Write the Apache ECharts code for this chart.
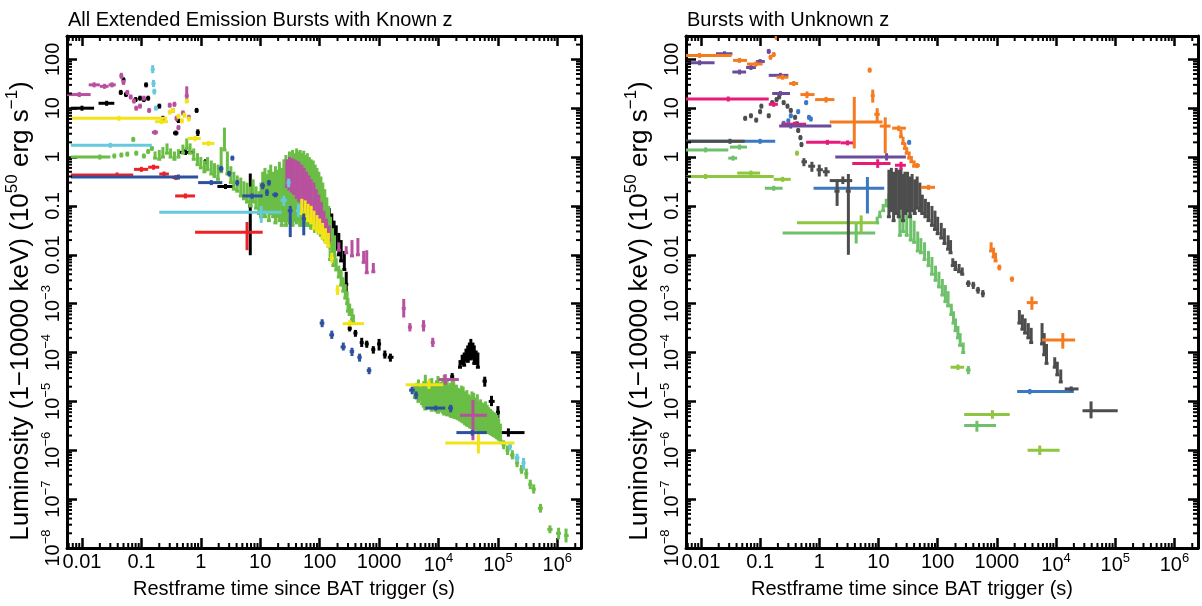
<!DOCTYPE html>
<html>
<head>
<meta charset="utf-8">
<title>Extended emission burst light curves</title>
<script src="https://cdn.jsdelivr.net/npm/echarts@6/dist/echarts.min.js"></script>
<style>
  html, body { margin: 0; padding: 0; background: #fff; }
  #chart { width: 1202px; height: 606px; }
</style>
</head>
<body>
<div id="chart"></div>
<script>
// axis ranges (time in s, luminosity in 1e50 erg/s)
var T_MIN = 0.0056, T_MAX = 2.5e6;
var L_MIN = 1e-8, L_MAX = 300;

// tick labels that are written as plain numbers; the rest are 10^n
var plainLabels = { "-2": "0.01", "-1": "0.1", "0": "1", "1": "10", "2": "100", "3": "1000" };

// point formats: [t, tLo, tHi, L, LLo, LHi] | [t, L] (dot) | [t, LLo, LHi] (vertical bar only)

// ---- left panel: known z ----
var knownBlack = [
  [0.01, 0.0065, 0.016, 10, 9.3, 10.7], [0.026, 0.019, 0.035, 12.6, 11.8, 13.4],
  [0.045, 21], [0.055, 19], [0.05, 38], [0.08, 15], [0.095, 16], [0.11, 15], [0.12, 30], [0.13, 16],
  [0.2, 11], [0.23, 6.2], [0.42, 5.6],
  [0.38, 0.34, 0.42, 3.1, 2.8, 3.4], [0.55, 0.41, 0.8, 1.25, 1.1, 1.45],
  [0.85, 9], [0.89, 0.86, 0.92, 3.2, 2.7, 3.7], [1.2, 1.1, 1.3, 0.8, 0.7, 0.9],
  [2.6, 1.9, 3.5, 0.25, 0.23, 0.27], [6.8, 6.5, 7.1, 0.1, 0.0098, 0.46],
  [60, 0.1, 0.3], [70, 0.09, 0.28], [80, 0.08, 0.25], [90, 0.07, 0.22], [100, 0.06, 0.2], [115, 0.05, 0.16],
  [130, 0.04, 0.12], [145, 0.03, 0.09], [160, 0.025, 0.07], [175, 0.018, 0.05], [190, 0.013, 0.04],
  [210, 0.01, 0.028], [230, 0.0075, 0.02], [260, 0.005, 0.012],
  [280, 270, 290, 2.5e-3, 1.4e-3, 4.5e-3],
  [320, 300, 340, 3.1e-4, 2.7e-4, 3.5e-4], [400, 375, 425, 2.5e-4, 2.1e-4, 2.9e-4],
  [510, 480, 540, 1.6e-4, 1.3e-4, 2e-4], [620, 580, 660, 1.5e-4, 1.25e-4, 1.75e-4],
  [800, 750, 850, 1.15e-4, 9.5e-5, 1.35e-4], [1000, 940, 1060, 1.5e-4, 1.1e-4, 1.9e-4],
  [1250, 1180, 1320, 9e-5, 7.5e-5, 1.1e-4], [1550, 1400, 1750, 8e-5, 6.5e-5, 9.5e-5],
  [5200, 5000, 5400, 1.5e-5, 1.2e-5, 1.8e-5], [1.1e4, 1.05e4, 1.15e4, 1.4e-5, 1.1e-5, 1.8e-5],
  [1.3e4, 1.25e4, 1.35e4, 2e-5, 1.7e-5, 2.4e-5], [1.7e4, 1.6e4, 1.8e4, 3.2e-5, 2.7e-5, 3.8e-5],
  [2.3e4, 5e-5, 7e-5], [2.5e4, 6e-5, 9e-5], [2.7e4, 5.5e-5, 1e-4], [2.9e4, 7e-5, 1.2e-4],
  [3.1e4, 6.6e-5, 1.4e-4], [3.3e4, 8e-5, 1.6e-4], [3.5e4, 7.4e-5, 1.9e-4], [3.8e4, 8e-5, 1.6e-4],
  [4e4, 6e-5, 1.4e-4], [4.3e4, 6e-5, 1.1e-4], [4.6e4, 5e-5, 1e-4],
  [6e4, 5.5e4, 6.5e4, 2.6e-5, 2e-5, 3.2e-5], [7.8e4, 7e4, 8.8e4, 1e-5, 8e-6, 1.3e-5],
  [1e5, 9.5e4, 1.05e5, 6e-6, 4.5e-6, 8e-6], [1.5e5, 8.5e4, 2.8e5, 2.3e-6, 1.9e-6, 2.8e-6]
];
var knownGreen = [
  [0.02, 0.0065, 0.03, 1.0, 0.93, 1.07],
  [0.035, 1.05], [0.046, 1.1], [0.058, 1.15], [0.073, 2.3], [0.082, 1.2], [0.11, 1.05], [0.13, 1.3], [0.15, 1.5],
  [0.17, 0.95, 1.3], [0.2, 0.9, 1.4], [0.23, 1.0, 1.6], [0.27, 1.2, 1.9], [0.31, 1.0, 1.5], [0.36, 0.9, 1.3],
  [0.42, 1.0, 1.45], [0.5, 1.2, 1.8], [0.58, 1.5, 2.4], [0.66, 1.2, 1.9], [0.76, 0.9, 1.5], [0.88, 0.7, 1.2],
  [1.0, 0.6, 1.0], [1.15, 0.5, 0.85], [1.3, 0.55, 1.0], [1.5, 0.45, 0.85], [1.7, 0.4, 0.75], [1.95, 0.35, 0.7],
  [2.2, 0.5, 1.6], [2.5, 1.4, 4.0], [2.8, 0.45, 1.3], [3.2, 0.3, 0.65], [3.6, 0.22, 0.5], [4.1, 0.2, 0.42],
  [4.7, 0.16, 0.38], [5.3, 0.14, 0.32], [6.0, 0.12, 0.3], [6.8, 0.1, 0.25], [7.6, 0.12, 0.35], [8.5, 0.09, 0.25],
  [9.5, 0.07, 0.2], [10.3, 0.06, 0.3],
  [11, 0.07, 0.5], [12, 0.06, 0.6], [13, 0.08, 0.45], [14, 0.05, 0.55], [15, 0.07, 0.7], [16.5, 0.06, 0.5],
  [18, 0.045, 0.65], [19.5, 0.06, 0.55], [21, 0.05, 0.8], [23, 0.04, 0.6], [25, 0.05, 0.9], [27, 0.04, 1.1],
  [29, 0.05, 0.8], [31, 0.045, 1.3], [33, 0.05, 1.0], [35, 0.04, 1.4], [38, 0.05, 1.2], [41, 0.045, 1.5],
  [44, 0.05, 1.3], [47, 0.04, 1.4], [50, 0.045, 1.2], [54, 0.04, 1.35], [58, 0.045, 1.1], [62, 0.04, 1.2],
  [67, 0.04, 1.0], [72, 0.035, 0.9], [78, 0.035, 0.85], [84, 0.03, 0.7], [90, 0.03, 0.6], [97, 0.028, 0.5],
  [105, 0.025, 0.4], [113, 0.022, 0.3], [122, 0.02, 0.22], [132, 0.018, 0.15], [142, 0.015, 0.1],
  [152, 0.013, 0.06], [165, 0.011, 0.035], [178, 0.009, 0.025],
  [150, 0.008, 0.012], [170, 0.006, 0.01], [190, 0.0049, 0.0085], [210, 0.0035, 0.006], [230, 0.0024, 0.005],
  [250, 0.0018, 0.0035], [270, 0.0013, 0.0025], [290, 0.001, 0.0018], [300, 0.0007, 0.0013],
  [320, 0.0006, 0.001], [350, 0.00046, 0.0008], [370, 0.0004, 0.0006],
  [4000, 1.2e-5, 2.2e-5], [4300, 1.4e-5, 2.4e-5], [4600, 1e-5, 2.8e-5], [4950, 1.1e-5, 2e-5], [5300, 9e-6, 2.2e-5],
  [5650, 8e-6, 2.6e-5], [6000, 7e-6, 3.5e-5], [6400, 9e-6, 2.3e-5], [6800, 8e-6, 2.5e-5], [7200, 7.5e-6, 2.9e-5],
  [7700, 6.6e-6, 3e-5], [8200, 7.8e-6, 2.4e-5], [8700, 7e-6, 2.2e-5], [9200, 6.4e-6, 2.7e-5], [9800, 6e-6, 3.3e-5],
  [1.04e4, 6.8e-6, 2.3e-5], [1.1e4, 6.5e-6, 2.5e-5], [1.18e4, 6e-6, 2.9e-5], [1.25e4, 5.5e-6, 3.5e-5],
  [1.33e4, 5.8e-6, 2.6e-5], [1.4e4, 5.3e-6, 2.8e-5], [1.5e4, 5.4e-6, 2.2e-5], [1.6e4, 5e-6, 2.4e-5],
  [1.7e4, 4.9e-6, 2.9e-5], [1.8e4, 4.8e-6, 2.6e-5], [1.9e4, 4.7e-6, 2e-5], [2e4, 4.6e-6, 2.2e-5],
  [2.15e4, 4.4e-6, 1.9e-5], [2.3e4, 4.2e-6, 1.8e-5], [2.45e4, 4e-6, 2.1e-5], [2.6e4, 3.8e-6, 2e-5],
  [2.8e4, 3.5e-6, 1.6e-5], [3e4, 3.3e-6, 1.7e-5], [3.2e4, 3.2e-6, 1.4e-5], [3.4e4, 3e-6, 1.3e-5],
  [3.65e4, 2.9e-6, 1.6e-5], [3.9e4, 2.8e-6, 1.5e-5], [4.2e4, 2.7e-6, 1.2e-5], [4.5e4, 2.6e-6, 1.4e-5],
  [4.8e4, 2.6e-6, 1e-5], [5.1e4, 2.5e-6, 1.1e-5], [5.45e4, 2.5e-6, 9.5e-6], [5.8e4, 2.4e-6, 9e-6],
  [6.2e4, 2.3e-6, 1e-5], [6.6e4, 2.4e-6, 8.5e-6], [7e4, 2.3e-6, 7.6e-6], [7.5e4, 2.2e-6, 7e-6],
  [8e4, 2.1e-6, 6.5e-6], [8.5e4, 2e-6, 6e-6], [9.1e4, 1.9e-6, 5.8e-6], [9.7e4, 1.8e-6, 5.3e-6],
  [1.03e5, 1.7e-6, 4.4e-6], [1.1e5, 1.6e-6, 3.5e-6],
  [1.25e5, 1.15e5, 1.35e5, 1.3e-6, 1.05e-6, 1.6e-6], [1.45e5, 1.35e5, 1.55e5, 1e-6, 8e-7, 1.25e-6],
  [1.75e5, 1.6e5, 1.9e5, 8e-7, 6.5e-7, 1e-6], [2.1e5, 1.95e5, 2.25e5, 5.5e-7, 4.5e-7, 6.8e-7],
  [2.5e5, 2.3e5, 2.7e5, 4e-7, 3.3e-7, 5e-7], [3e5, 2.8e5, 3.2e5, 3.3e-7, 2.6e-7, 4.2e-7],
  [3.5e5, 3.25e5, 3.75e5, 2e-7, 1.6e-7, 2.5e-7], [4e5, 3.7e5, 4.3e5, 1.6e-7, 1.3e-7, 2e-7],
  [5.2e5, 4.7e5, 5.7e5, 6.5e-8, 5.3e-8, 8e-8], [7.5e5, 6.8e5, 8.3e5, 2.4e-8, 2e-8, 2.9e-8],
  [1.05e6, 9.5e5, 1.15e6, 2e-8, 1.5e-8, 2.6e-8], [1.4e6, 1.3e6, 1.55e6, 1.8e-8, 1.3e-8, 2.5e-8]
];
var knownMagenta = [
  [0.009, 0.0055, 0.014, 19, 17.5, 20.5],
  [0.016, 0.013, 0.02, 30, 27, 33], [0.024, 0.02, 0.028, 28, 25.5, 30.5], [0.032, 0.028, 0.037, 30, 27, 33],
  [0.046, 0.043, 0.049, 46, 40, 53], [0.05, 0.047, 0.053, 34, 30, 38],
  [0.058, 21], [0.066, 17], [0.075, 14], [0.082, 10], [0.095, 11], [0.11, 16], [0.135, 9],
  [0.17, 0.15, 0.19, 3.2, 2.95, 3.45],
  [0.3, 11.5], [0.34, 9], [0.36, 12], [0.39, 6.2], [0.42, 4], [0.5, 8], [0.58, 0.56, 0.6, 18, 13, 28], [0.63, 6.5],
  [28, 0.25, 0.9], [31, 0.22, 1.0], [34, 0.2, 0.95], [37, 0.18, 0.9], [41, 0.15, 0.85], [45, 0.13, 0.8],
  [50, 0.12, 0.7], [55, 0.1, 0.6], [60, 0.09, 0.5], [66, 0.08, 0.42], [72, 0.07, 0.35], [80, 0.06, 0.3],
  [88, 0.05, 0.22], [97, 0.045, 0.17], [107, 0.04, 0.12], [118, 0.032, 0.08], [130, 0.025, 0.055], [145, 0.02, 0.04],
  [210, 0.0124, 0.018], [280, 0.011, 0.015], [350, 0.0095, 0.02], [440, 0.01, 0.022], [550, 0.007, 0.012],
  [620, 0.0043, 0.0124], [800, 0.0045, 0.0068],
  [2600, 2500, 2700, 8e-4, 5.2e-4, 1.25e-3], [3300, 3100, 3500, 3.3e-4, 2.7e-4, 4e-4],
  [5600, 5300, 5900, 3.5e-4, 2.7e-4, 4.6e-4], [8000, 7600, 8400, 1.6e-4, 1.3e-4, 2e-4],
  [1.3e4, 1e4, 2.2e4, 2.8e-5, 2.2e-5, 3.6e-5], [3.8e4, 2.3e4, 6.5e4, 5.2e-6, 1.6e-6, 1.07e-5]
];
var knownCyan = [
  [0.03, 0.0065, 0.15, 1.74, 1.62, 1.86],
  [0.155, 0.152, 0.158, 62, 52, 76], [0.16, 0.157, 0.163, 32, 27, 38],
  [0.165, 0.162, 0.168, 22, 19, 25], [0.175, 0.172, 0.178, 10, 9, 11],
  [10.4, 0.2, 23, 0.074, 0.045, 0.1],
  [25, 22, 28, 0.13, 0.1, 0.16], [30, 29, 31, 0.3, 0.24, 0.36], [32, 29, 35, 0.08, 0.06, 0.1], [44, 40, 48, 0.08, 0.06, 0.11],
  [1.6e5, 1.5e5, 1.7e5, 1.2e-6, 1e-6, 1.4e-6], [2.1e5, 1.9e5, 2.3e5, 7e-7, 5.8e-7, 8.5e-7],
  [2.7e5, 2.5e5, 2.9e5, 5.5e-7, 4e-7, 7e-7]
];
var knownYellow = [
  [0.042, 0.0065, 0.27, 6.2, 5.8, 6.6], [0.22, 0.17, 0.28, 5.3, 4.8, 5.8],
  [0.3, 8.3], [0.34, 9], [0.42, 6.8], [0.48, 5.5], [0.53, 7.2], [0.58, 14], [0.63, 6],
  [0.8, 0.6, 1.0, 2.4, 2.1, 2.7], [1.35, 1.05, 1.7, 1.9, 1.7, 2.1],
  [50, 0.07, 0.14], [57, 0.06, 0.13], [64, 0.05, 0.11], [72, 0.045, 0.1], [80, 0.035, 0.08], [90, 0.03, 0.065],
  [100, 0.028, 0.055], [112, 0.022, 0.045], [125, 0.018, 0.035], [140, 0.015, 0.028],
  [160, 155, 165, 0.0085, 0.0068, 0.011], [200, 190, 210, 1.9e-3, 1.5e-3, 2.4e-3],
  [320, 245, 560, 3.9e-4, 3.4e-4, 4.6e-4], [6900, 2800, 1.2e4, 2.2e-5, 1.8e-5, 2.8e-5],
  [4.7e4, 1.3e4, 1.9e5, 1.4e-6, 8.6e-7, 2.2e-6]
];
var knownRed = [
  [0.039, 0.0065, 0.073, 0.43, 0.4, 0.46], [0.1, 0.075, 0.13, 0.56, 0.51, 0.61],
  [0.16, 0.13, 0.2, 0.62, 0.57, 0.67], [0.24, 0.2, 0.29, 0.45, 0.41, 0.49],
  [0.38, 0.33, 0.44, 0.38, 0.35, 0.41], [0.55, 0.37, 0.8, 0.16, 0.145, 0.175],
  [6.0, 0.8, 11, 0.029, 0.0124, 0.047]
];
var knownBlue = [
  [0.42, 0.0065, 0.9, 0.39, 0.36, 0.42], [1.5, 0.9, 2.3, 0.3, 0.27, 0.33],
  [2.2, 2.0, 2.4, 0.58, 0.5, 0.66], [3.0, 2.8, 3.2, 0.46, 0.4, 0.52], [3.4, 0.95],
  [4.1, 3.8, 4.4, 0.3, 0.26, 0.34], [7.3, 5.0, 11, 0.16, 0.14, 0.18],
  [11, 10, 12, 0.26, 0.22, 0.3], [13, 12, 14, 0.19, 0.16, 0.22], [14, 13, 15, 0.3, 0.26, 0.34],
  [18, 16, 20, 0.17, 0.15, 0.19], [32, 29, 35, 0.08, 0.023, 0.1], [54, 50, 58, 0.055, 0.025, 0.07],
  [110, 100, 120, 4e-4, 3.3e-4, 4.8e-4], [160, 145, 175, 2.3e-4, 1.9e-4, 2.8e-4],
  [250, 225, 275, 1.3e-4, 1.1e-4, 1.6e-4], [350, 320, 380, 1.05e-4, 8.5e-5, 1.25e-4],
  [470, 430, 510, 8e-5, 6.5e-5, 9.5e-5], [680, 620, 740, 4.3e-5, 3.6e-5, 5e-5],
  [3600, 3200, 4000, 1.7e-5, 1.4e-5, 2e-5], [4200, 3900, 4500, 1.35e-5, 1.1e-5, 1.6e-5],
  [9000, 6000, 1.3e4, 7.3e-6, 6.5e-6, 8.2e-6], [1.6e4, 1.45e4, 1.75e4, 7.3e-6, 6e-6, 8.5e-6],
  [3.7e4, 2e4, 6.5e4, 2.3e-6, 2e-6, 2.6e-6]
];

// ---- right panel: unknown z ----
var unknownGreen = [
  [0.012, 0.0056, 0.029, 1.4, 1.3, 1.5], [0.045, 0.031, 0.06, 1.6, 1.5, 1.7],
  [0.035, 0.029, 0.041, 0.95, 0.88, 1.02], [0.17, 0.12, 0.24, 0.23, 0.21, 0.25],
  [4.2, 0.24, 8.8, 0.028, 0.017, 0.046],
  [9.5, 0.045, 0.06], [10.5, 0.06, 0.08], [12, 0.08, 0.11], [13.5, 0.1, 0.14], [15, 0.13, 0.18], [17, 0.16, 0.24],
  [23, 0.025, 0.2], [26, 0.03, 0.15], [30, 0.025, 0.1], [35, 0.02, 0.07], [40, 0.018, 0.05], [46, 0.012, 0.03],
  [52, 0.011, 0.022], [60, 0.008, 0.018], [70, 0.006, 0.012], [80, 0.004, 0.009], [92, 0.003, 0.006],
  [105, 0.0022, 0.0045], [120, 0.0015, 0.0032], [135, 0.0011, 0.0024], [150, 0.0009, 0.0018],
  [170, 6e-4, 1e-3], [185, 4e-4, 7e-4], [200, 2.8e-4, 5e-4], [220, 2e-4, 3.5e-4], [240, 1.4e-4, 2.5e-4], [270, 1e-4, 1.6e-4],
  [330, 300, 360, 4.4e-5, 3.6e-5, 5.3e-5], [460, 280, 970, 3.2e-6, 2.4e-6, 4e-6]
];
var unknownYellowGreen = [
  [0.012, 0.0056, 0.17, 0.4, 0.37, 0.43], [0.07, 0.041, 0.1, 0.47, 0.43, 0.51],
  [0.24, 0.17, 0.33, 0.35, 0.32, 0.38], [0.42, 0.4, 0.44, 1.2, 1.1, 1.3],
  [5.1, 0.42, 8.8, 0.045, 0.028, 0.064],
  [220, 165, 280, 5e-5, 4.4e-5, 5.7e-5], [840, 280, 1650, 5.4e-6, 4.4e-6, 6.6e-6],
  [5300, 3300, 1.15e4, 1e-6, 8e-7, 1.25e-6]
];
var unknownGray = [
  [0.031, 0.0056, 0.055, 2.1, 1.95, 2.25],
  [0.056, 6.2], [0.07, 7], [0.086, 5.7], [0.1, 8.5], [0.105, 11], [0.14, 7], [0.16, 13], [0.19, 15], [0.21, 17],
  [0.25, 13], [0.29, 11], [0.33, 9], [0.39, 6.5], [0.42, 4.8], [0.44, 3.5], [0.48, 2.5], [0.5, 1.8],
  [0.55, 0.5, 0.62, 0.8, 0.65, 0.95], [0.75, 0.65, 0.85, 0.65, 0.5, 0.8],
  [1.0, 0.9, 1.15, 0.55, 0.4, 0.7], [1.3, 1.15, 1.5, 0.5, 0.4, 0.62],
  [2.5, 1.5, 3.6, 0.33, 0.28, 0.4], [2.0, 1.8, 2.2, 0.2, 0.1, 0.34], [3.1, 2.8, 3.4, 0.2, 0.01, 0.45],
  [15, 0.06, 0.55], [16.5, 0.08, 0.6], [18, 0.05, 0.5], [20, 0.07, 0.6], [22, 0.06, 0.55], [24, 0.09, 0.6],
  [26, 0.05, 0.45], [28, 0.07, 0.5], [31, 0.08, 0.5], [34, 0.06, 0.4], [37, 0.08, 0.45], [41, 0.07, 0.35],
  [45, 0.09, 0.4], [50, 0.08, 0.3],
  [55, 0.07, 0.17], [62, 0.06, 0.14], [70, 0.05, 0.12], [80, 0.04, 0.1], [90, 0.033, 0.08], [100, 0.027, 0.06],
  [115, 0.022, 0.045], [130, 0.017, 0.035], [150, 0.013, 0.025], [165, 0.011, 0.02],
  [180, 0.006, 0.0085], [200, 0.005, 0.0075], [230, 0.0045, 0.0065], [260, 0.004, 0.0055],
  [330, 300, 360, 2.6e-3, 2.2e-3, 3e-3], [400, 370, 430, 2.4e-3, 2e-3, 2.8e-3],
  [480, 440, 520, 1.9e-3, 1.6e-3, 2.2e-3], [580, 540, 620, 1.6e-3, 1.35e-3, 1.9e-3],
  [2400, 4e-4, 7.4e-4], [2700, 3e-4, 6e-4], [3000, 2.5e-4, 5e-4], [3400, 2e-4, 4e-4], [3800, 1.6e-4, 3.2e-4],
  [5800, 1.5e-4, 4e-4], [6300, 9e-5, 2.5e-4], [6900, 6e-5, 1.5e-4],
  [9500, 5e-5, 8e-5], [1.05e4, 3.5e-5, 6.5e-5], [1.2e4, 2.5e-5, 4.5e-5],
  [1.8e4, 1.4e4, 2.4e4, 1.8e-5, 1.6e-5, 2e-5], [3.9e4, 2.8e4, 1.1e5, 6.4e-6, 4.5e-6, 1e-5]
];
var unknownBlue = [
  [0.1, 0.0056, 0.18, 2.1, 1.95, 2.25],
  [0.25, 0.23, 0.27, 4.9, 4.4, 5.4], [0.3, 5.5], [0.33, 7], [0.44, 8.5], [0.6, 13], [0.67, 6.5], [0.72, 6],
  [33, 32, 34, 2.0, 1.85, 2.15],
  [6.5, 0.8, 12.5, 0.23, 0.07, 0.39],
  [3600, 2200, 2e4, 1.6e-5, 1.4e-5, 1.8e-5]
];
var unknownPink = [
  [0.029, 0.0056, 0.14, 15.4, 14.5, 16.3], [0.17, 0.14, 0.2, 12, 11, 13],
  [0.38, 0.23, 0.6, 4.7, 4.3, 5.1],
  [1.37, 0.6, 2.3, 2.0, 1.8, 2.2], [3.0, 2.3, 3.9, 1.95, 1.75, 2.15],
  [9.7, 3.6, 16, 0.74, 0.6, 0.9], [24, 19, 29, 0.68, 0.55, 0.8]
];
var unknownPurple = [
  [0.0095, 0.0056, 0.017, 85, 80, 90], [0.025, 0.018, 0.034, 130, 122, 138],
  [0.045, 0.034, 0.058, 55, 51, 59], [0.07, 0.058, 0.085, 68, 63, 73], [0.1, 0.085, 0.12, 90, 84, 96],
  [0.14, 0.135, 0.145, 145, 135, 155], [0.22, 0.14, 0.3, 47, 44, 50], [0.22, 0.16, 0.32, 20, 18.5, 21.5],
  [0.33, 0.21, 1.6, 4.3, 3.8, 4.8], [13.7, 1.86, 29, 1.0, 0.85, 1.2]
];
var unknownOrange = [
  [0.0095, 0.0056, 0.033, 120, 112, 128], [0.045, 0.035, 0.06, 95, 88, 102], [0.085, 0.06, 0.11, 80, 74, 86],
  [0.15, 0.14, 0.16, 110, 100, 120], [0.17, 0.16, 0.18, 125, 115, 135], [0.19, 0.18, 0.2, 280, 260, 300],
  [0.24, 0.19, 0.3, 43, 40, 46], [0.37, 0.31, 0.44, 32, 29, 35], [0.62, 0.48, 0.83, 19, 16, 22],
  [1.3, 0.85, 1.8, 15, 13, 17], [3.9, 1.5, 11.7, 5.2, 1.5, 17],
  [7.1, 6.9, 7.3, 60, 55, 66], [8.0, 7.7, 8.3, 18, 13, 24], [9.5, 8.5, 10.5, 7.5, 5, 10],
  [13, 10.5, 16, 4.3, 1.2, 6.5], [22, 17, 29, 3.9, 3.4, 4.4],
  [24, 2.6, 3.6], [26, 1.9, 2.6], [28, 1.5, 2.0], [30, 1.2, 1.6], [33, 0.95, 1.3], [36, 0.8, 1.05], [40, 0.65, 0.85],
  [45, 40, 50, 0.67, 0.6, 0.75], [70, 52, 90, 0.24, 0.22, 0.27],
  [800, 0.012, 0.018], [880, 0.009, 0.014], [950, 0.0075, 0.011], [1100, 1050, 1150, 0.0055, 0.0048, 0.0063],
  [1800, 1650, 1950, 3.2e-3, 2.8e-3, 3.6e-3], [3900, 3200, 4900, 1.05e-3, 7.5e-4, 1.4e-3],
  [1.3e4, 5.8e3, 2.1e4, 1.8e-4, 1.2e-4, 2.5e-4]
];

// drawing order: later sets are drawn on top
var knownSets = [
  [knownBlack, "#000000"], [knownGreen, "#6abd45"], [knownMagenta, "#b8509f"], [knownCyan, "#66c9de"],
  [knownYellow, "#f3e418"], [knownRed, "#ec2227"], [knownBlue, "#2e519f"]
];
var unknownSets = [
  [unknownGreen, "#6fc06a"], [unknownYellowGreen, "#8fc640"], [unknownBlue, "#3a78c2"], [unknownGray, "#4d4d4d"],
  [unknownPink, "#e9197c"], [unknownPurple, "#6b4c9c"], [unknownOrange, "#f47b20"]
];

var FONT = "'Liberation Sans', Arial, Helvetica, sans-serif";
function richStyle(size) {
  return {
    n: { fontSize: size, fontFamily: FONT, color: "#000", verticalAlign: "bottom" },
    sup: { fontSize: Math.round(size * 0.66), fontFamily: FONT, color: "#000", verticalAlign: "top",
           padding: [0, 0, Math.round(size * 0.5), 0] }
  };
}

function toItem(p) {
  var q = p.length === 2 ? [p[0], p[0], p[0], p[1], p[1], p[1]]
        : p.length === 3 ? [p[0], p[0], p[0], p[1], p[1], p[2]] : p;
  return [q[0], q[1], q[2], Math.log10(q[3]), Math.log10(q[4]), Math.log10(q[5])];
}

function barRenderer(color) {
  return function (params, api) {
    var c = api.coord([api.value(0), api.value(3)]);
    var a = api.coord([api.value(1), api.value(3)])[0];
    var b = api.coord([api.value(2), api.value(3)])[0];
    var lo = api.coord([api.value(0), api.value(4)])[1];
    var hi = api.coord([api.value(0), api.value(5)])[1];
    if (b - a < 4) { a = c[0] - 2; b = c[0] + 2; }
    if (lo - hi < 5) { lo = c[1] + 2.5; hi = c[1] - 2.5; }
    var style = { stroke: color, lineWidth: 3, lineCap: "butt" };
    return {
      type: "group",
      children: [
        { type: "line", shape: { x1: a, y1: c[1], x2: b, y2: c[1] }, style: style },
        { type: "line", shape: { x1: c[0], y1: lo, x2: c[0], y2: hi }, style: style }
      ]
    };
  };
}

// minor tick positions (2..9 x 10^k)
var xMinor = [], yMinor = [];
for (var k = -3; k <= 6; k++) {
  for (var m = 2; m <= 9; m++) {
    var v = m * Math.pow(10, k);
    if (v > T_MIN && v < T_MAX) xMinor.push([v, Math.log10(L_MIN)]);
  }
}
for (var k2 = -8; k2 <= 2; k2++) {
  for (var m2 = 2; m2 <= 9; m2++) {
    var w = m2 * Math.pow(10, k2);
    if (w < L_MAX) yMinor.push([T_MIN, Math.log10(w)]);
  }
}

function xMinorRender(params, api) {
  var b = api.coord([api.value(0), Math.log10(L_MIN)]);
  var t = api.coord([api.value(0), Math.log10(L_MAX)]);
  var s = { stroke: "#000", lineWidth: 2 };
  return { type: "group", children: [
    { type: "line", shape: { x1: b[0], y1: b[1], x2: b[0], y2: b[1] - 5 }, style: s },
    { type: "line", shape: { x1: t[0], y1: t[1], x2: t[0], y2: t[1] + 5 }, style: s }
  ] };
}
function yMinorRender(params, api) {
  var l = api.coord([T_MIN, api.value(1)]);
  var r = api.coord([T_MAX, api.value(1)]);
  var s = { stroke: "#000", lineWidth: 2 };
  return { type: "group", children: [
    { type: "line", shape: { x1: l[0], y1: l[1], x2: l[0] + 5, y2: l[1] }, style: s },
    { type: "line", shape: { x1: r[0], y1: r[1], x2: r[0] - 5, y2: r[1] }, style: s }
  ] };
}

function xLabel(val) {
  var e = Math.round(Math.log10(val));
  if (plainLabels[e] !== undefined) return "{n|" + plainLabels[e] + "}";
  return "{n|10}{sup|" + e + "}";
}
function yLabel(val) {
  var e = Math.round(val);
  if (plainLabels[e] !== undefined) return "{n|" + plainLabels[e] + "}";
  return "{n|10}{sup|\u2212" + (-e) + "}";
}

var axisLine = { show: true, onZero: false, lineStyle: { color: "#000", width: 3 } };
var majorTick = { show: true, inside: true, length: 10, lineStyle: { color: "#000", width: 2.5 } };

var grids = [
  { left: 67, top: 36, width: 514, height: 512 },
  { left: 686, top: 36, width: 512, height: 512 }
];
var xAxes = [], yAxes = [], series = [];
[0, 1].forEach(function (g) {
  xAxes.push({
    gridIndex: g, type: "log", logBase: 10, min: T_MIN, max: T_MAX, position: "bottom",
    axisLine: axisLine, axisTick: majorTick, splitLine: { show: false },
    axisLabel: { formatter: xLabel, rich: richStyle(20), margin: 4, showMinLabel: false, showMaxLabel: false },
    name: "Restframe time since BAT trigger (s)", nameLocation: "middle", nameGap: 29,
    nameTextStyle: { fontSize: 20, fontFamily: FONT, color: "#000", padding: [0, 60, 0, 0] }
  });
  xAxes.push({
    gridIndex: g, type: "log", logBase: 10, min: T_MIN, max: T_MAX, position: "top",
    axisLine: axisLine, axisTick: majorTick, splitLine: { show: false }, axisLabel: { show: false }
  });
  yAxes.push({
    gridIndex: g, type: "value", min: Math.log10(L_MIN), max: Math.log10(L_MAX), interval: 1, position: "left",
    axisLine: axisLine, axisTick: majorTick, splitLine: { show: false },
    axisLabel: { formatter: yLabel, rich: richStyle(20), rotate: 90, margin: 4, showMaxLabel: false },
    name: "{n|Luminosity (1\u221210000 keV) (10}{sup|50}{n| erg s}{sup|\u22121}{n|)}",
    nameLocation: "middle", nameGap: 33,
    nameTextStyle: { rich: richStyle(26), padding: [0, 38, 0, 0] }
  });
  yAxes.push({
    gridIndex: g, type: "value", min: Math.log10(L_MIN), max: Math.log10(L_MAX), interval: 1, position: "right",
    axisLine: axisLine, axisTick: majorTick, splitLine: { show: false }, axisLabel: { show: false }
  });
  var sets = g === 0 ? knownSets : unknownSets;
  sets.forEach(function (s) {
    series.push({
      type: "custom", xAxisIndex: 2 * g, yAxisIndex: 2 * g, clip: true,
      renderItem: barRenderer(s[1]), encode: { x: 0, y: 3 },
      data: s[0].map(toItem), silent: true, animation: false
    });
  });
  series.push({
    type: "custom", xAxisIndex: 2 * g, yAxisIndex: 2 * g, renderItem: xMinorRender,
    data: xMinor, silent: true, animation: false
  });
  series.push({
    type: "custom", xAxisIndex: 2 * g, yAxisIndex: 2 * g, renderItem: yMinorRender,
    data: yMinor, silent: true, animation: false
  });
});

var chart = echarts.init(document.getElementById("chart"));
chart.setOption({
  animation: false,
  backgroundColor: "#fff",
  title: [
    { text: "All Extended Emission Bursts with Known z", left: 63, top: 5,
      textStyle: { fontSize: 20, fontWeight: "normal", fontFamily: FONT, color: "#000" } },
    { text: "Bursts with Unknown z", left: 682, top: 5,
      textStyle: { fontSize: 20, fontWeight: "normal", fontFamily: FONT, color: "#000" } }
  ],
  grid: grids,
  xAxis: xAxes,
  yAxis: yAxes,
  series: series
});
</script>
</body>
</html>
